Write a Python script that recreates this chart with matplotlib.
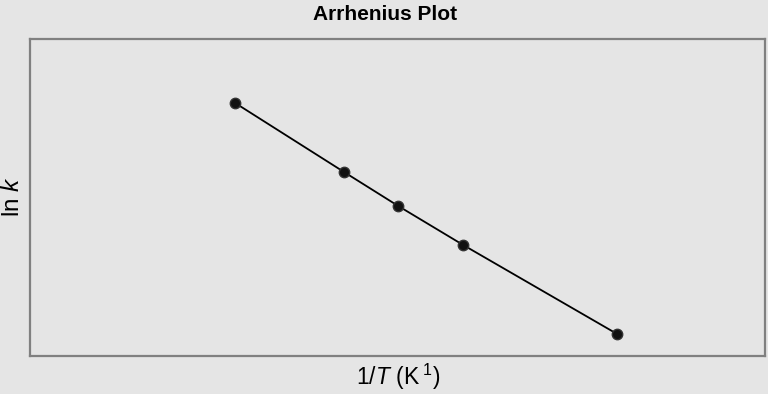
import numpy as np
import matplotlib
matplotlib.use('Agg')
import matplotlib.pyplot as plt

# data (1000/T in K^-1 * 1e3, ln k)
inv_T = [2.600, 2.885, 3.027, 3.197, 3.600]
ln_k = [-2.00, -3.38, -4.06, -4.84, -6.62]

title = 'Arrhenius Plot'
xlabel = r'1/$T$ (K$^{\ 1}$)'
ylabel = r'ln $k$'

plt.rcParams['font.family'] = ['Liberation Sans', 'DejaVu Sans']
plt.rcParams['mathtext.fontset'] = 'custom'
plt.rcParams['mathtext.rm'] = 'Liberation Sans'
plt.rcParams['mathtext.it'] = 'Liberation Sans:italic'
plt.rcParams['mathtext.bf'] = 'Liberation Sans:bold'

bg = '#e5e5e5'
fig = plt.figure(figsize=(7.68, 3.94), dpi=100, facecolor=bg)
ax = fig.add_axes([30/768, 1 - 356/394, 735/768, 317/394], facecolor=bg)

ax.plot(inv_T, ln_k, color='black', lw=1.3, marker='o', ms=7.5,
        markerfacecolor='#111111', markeredgecolor='#333333', markeredgewidth=1)

ax.set_xlim(2.063, 3.987)
ax.set_ylim(-7.06, -0.72)
ax.set_xticks([])
ax.set_yticks([])
for s in ax.spines.values():
    s.set_color('#808080')
    s.set_linewidth(1.6)

fig.text(385/768, 1 - 15/394, title, ha='center', va='center', fontsize=15, fontweight='bold')
fig.text(398/768, 1 - 377/394, xlabel, ha='center', va='center', fontsize=16.5)
fig.text(13/768, 1 - 197/394, ylabel, ha='center', va='center', fontsize=17.5, rotation=90)

plt.savefig('out.png', dpi=100, facecolor=bg)
plt.close()
